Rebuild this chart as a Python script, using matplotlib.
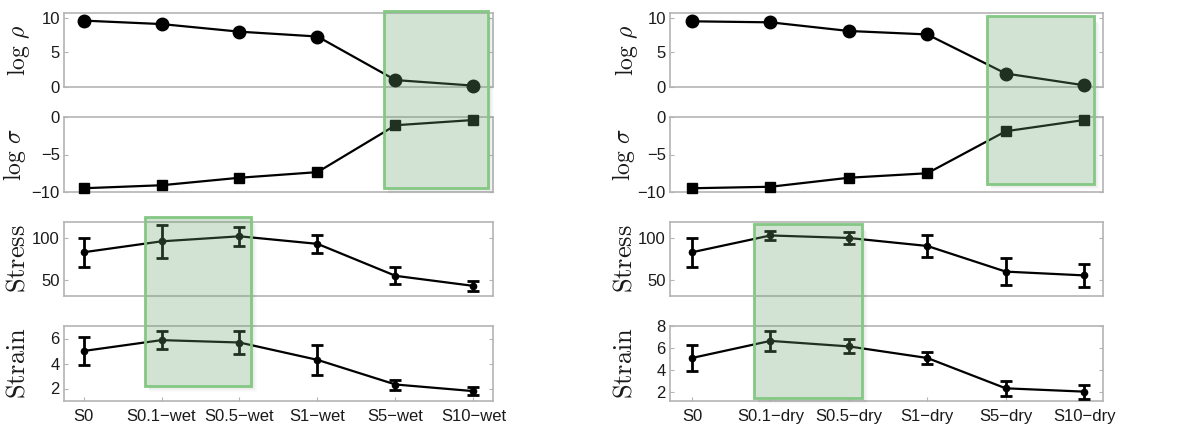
import matplotlib
matplotlib.use("Agg")
import matplotlib.pyplot as plt
from matplotlib.patches import Rectangle
import numpy as np

plt.rcParams['font.family'] = ['Liberation Sans', 'DejaVu Sans']
plt.rcParams['mathtext.fontset'] = 'cm'

# ---------------- data ----------------
labels_wet = ["S0", "S0.1\u2212wet", "S0.5\u2212wet", "S1\u2212wet", "S5\u2212wet", "S10\u2212wet"]
labels_dry = ["S0", "S0.1\u2212dry", "S0.5\u2212dry", "S1\u2212dry", "S5\u2212dry", "S10\u2212dry"]

wet_log_rho = [9.6, 9.1, 8.0, 7.3, 1.0, 0.2]
wet_log_sigma = [-9.5, -9.1, -8.1, -7.35, -1.1, -0.4]
wet_stress = [83, 96, 102, 93, 55, 43]
wet_stress_err = [17, 19.5, 11, 11, 10, 5.6]
wet_strain = [5.0, 5.87, 5.68, 4.29, 2.32, 1.79]
wet_strain_err = [1.15, 0.7, 0.9, 1.2, 0.4, 0.33]

dry_log_rho = [9.5, 9.35, 8.1, 7.6, 1.95, 0.25]
dry_log_sigma = [-9.5, -9.3, -8.1, -7.5, -1.9, -0.4]
dry_stress = [83, 103, 100, 90.5, 60, 55.5]
dry_stress_err = [17, 5.3, 6.6, 12.7, 16, 13.3]
dry_strain = [5.1, 6.65, 6.15, 5.1, 2.35, 2.05]
dry_strain_err = [1.2, 0.9, 0.63, 0.52, 0.7, 0.63]

W, H = 1192, 428
fig = plt.figure(figsize=(W / 100, H / 100), dpi=100)

SPINE = '#b4b4b4'
TXT = '#1a1a1a'


def add_ax(x0, x1, y0, y1):
    return fig.add_axes([x0 / W, 1 - y1 / H, (x1 - x0) / W, (y1 - y0) / H])


def style(ax, ylim, yticks, xlim, show_x, xlabels=None):
    ax.set_xlim(*xlim)
    ax.set_ylim(*ylim)
    ax.set_yticks(yticks)
    ax.set_xticks(range(6))
    for s in ax.spines.values():
        s.set_color(SPINE)
        s.set_linewidth(1.2)
    ax.tick_params(direction='in', length=3, width=0.8, color=SPINE,
                   labelsize=12, labelcolor=TXT, right=True, top=False, pad=3)
    if show_x:
        ax.set_xticklabels(xlabels)
        ax.tick_params(axis='x', pad=6)
    else:
        ax.tick_params(axis='x', bottom=False, labelbottom=False)


def green_box(ax_top, ax_bot, x0, x1, ytop, ybot):
    inv = fig.transFigure.inverted()
    p_top = inv.transform(ax_top.transData.transform((x0, ytop)))
    p_bot = inv.transform(ax_bot.transData.transform((x1, ybot)))
    fx0, fy1 = p_top
    fx1, fy0 = p_bot
    w = fx1 - fx0
    h = fy1 - fy0
    # soft shadow only outside the box (right and bottom strips)
    px, py = 1 / W, 1 / H
    for i, a in enumerate([0.13, 0.10, 0.075, 0.05, 0.03, 0.015]):
        fig.patches.append(Rectangle((fx1 + i * px, fy0 - (i + 1) * py), px, h - 3 * py,
                                     transform=fig.transFigure, facecolor='black',
                                     alpha=a, edgecolor='none', zorder=5))
        fig.patches.append(Rectangle((fx0 + 4 * px, fy0 - (i + 1) * py), w - 4 * px + i * px, py,
                                     transform=fig.transFigure, facecolor='black',
                                     alpha=a, edgecolor='none', zorder=5))
    fig.patches.append(Rectangle((fx0, fy0), w, h,
                                 transform=fig.transFigure, facecolor='#6fa56f',
                                 alpha=0.3, edgecolor='none', zorder=6))
    fig.patches.append(Rectangle((fx0, fy0), w, h,
                                 transform=fig.transFigure, facecolor='none',
                                 edgecolor='#84c884', linewidth=2, zorder=7))


def panel(x0, x1, xlim, labels, rho, sig, st, st_e, sn, sn_e, sn_lim, sn_ticks, lab_x):
    a1 = add_ax(x0, x1, 13, 87)
    a2 = add_ax(x0, x1, 117, 192)
    a3 = add_ax(x0, x1, 222, 296)
    a4 = add_ax(x0, x1, 326, 401)
    x = np.arange(len(labels))
    a1.plot(x, rho, '-o', color='black', lw=1.6, ms=9, clip_on=False, zorder=3)
    a2.plot(x, sig, '-s', color='black', lw=1.6, ms=7.5, clip_on=False, zorder=3)
    a3.errorbar(x, st, yerr=st_e, fmt='-o', color='black', lw=1.6, ms=4.5,
                capsize=4, capthick=2, elinewidth=2, zorder=3)
    a4.errorbar(x, sn, yerr=sn_e, fmt='-o', color='black', lw=1.6, ms=4.5,
                capsize=4, capthick=2, elinewidth=2, zorder=3)
    style(a1, (0, 10.7), [0, 5, 10], xlim, False)
    style(a2, (-10, 0), [-10, -5, 0], xlim, False)
    style(a3, (31, 119), [50, 100], xlim, False)
    style(a4, sn_lim, sn_ticks, xlim, True, labels)
    names = [r'$\log\,\rho$', r'$\log\,\sigma$', r'$\mathrm{Stress}$', r'$\mathrm{Strain}$']
    sizes = [17, 17, 19, 19]
    for ax, nm, lx, fs in zip([a1, a2, a3, a4], names, lab_x, sizes):
        ax.set_ylabel(nm, fontsize=fs, color=TXT)
        ax.yaxis.set_label_coords(lx, 0.5)
    return a1, a2, a3, a4


L = panel(64, 493, (-0.25, 5.25), labels_wet, wet_log_rho, wet_log_sigma,
          wet_stress, wet_stress_err, wet_strain, wet_strain_err,
          (1, 7), [2, 4, 6], [-0.075, -0.084, -0.08, -0.08])
R = panel(670, 1103, (-0.28, 5.24), labels_dry, dry_log_rho, dry_log_sigma,
          dry_stress, dry_stress_err, dry_strain, dry_strain_err,
          (1.2, 8), [2, 4, 6, 8], [-0.07, -0.077, -0.077, -0.077])

green_box(L[0], L[1], 3.85, 5.18, 11.0, -9.5)
green_box(L[2], L[3], 0.79, 2.15, 125, 2.24)
green_box(R[0], R[1], 3.76, 5.13, 10.3, -8.9)
green_box(R[2], R[3], 0.79, 2.17, 117, 1.5)

fig.savefig("out.png", dpi=100)
